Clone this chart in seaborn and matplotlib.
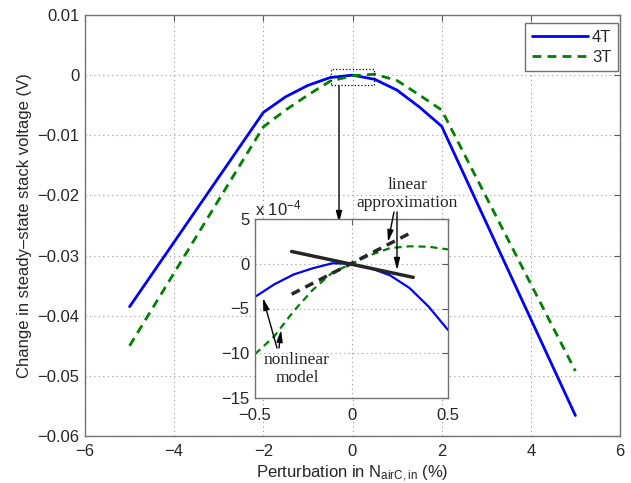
import numpy as np
import pandas as pd
import seaborn as sns
import matplotlib
matplotlib.use('Agg')
import matplotlib.pyplot as plt
from matplotlib.patches import Rectangle

# main curves: perturbation (%) vs change in stack voltage (V)
pert = [-5, -2, -1.5, -1, -0.5, 0, 0.5, 1, 1.5, 2, 5]
v_4t = [-0.0385, -0.0062, -0.0036, -0.0017, -0.0004, 0.0, -0.0007, -0.0025, -0.0053, -0.0085, -0.0566]
v_3t = [-0.0450, -0.0086, -0.0058, -0.0033, -0.0010, -0.0001, 0.00016, -0.0009, -0.0033, -0.0058, -0.0492]
labels = ['4T', '3T']

# inset (units of 1e-4 V)
pert_in = [-0.5, -0.4, -0.3, -0.2, -0.1, 0, 0.1, 0.2, 0.3, 0.4, 0.5]
in_4t = [-3.7, -2.3, -1.2, -0.5, 0.05, 0.0, -0.5, -1.3, -2.7, -4.8, -7.4]
in_3t = [-10.1, -8.1, -5.3, -2.9, -1.0, 0.0, 1.0, 1.75, 1.95, 1.9, 1.6]
# linear approximations
lin_x = [-0.31, 0.32]
lin_4t = [1.37, -1.52]
lin_3t = [-3.4, 3.6]

sns.set_style('white')
plt.rcParams['font.family'] = ['Liberation Sans', 'DejaVu Sans']
plt.rcParams['mathtext.fontset'] = 'custom'
plt.rcParams['mathtext.rm'] = 'Liberation Sans'
plt.rcParams['mathtext.it'] = 'Liberation Sans'

W, H = 631, 483
fig = plt.figure(figsize=(W / 100, H / 100), dpi=100)
ax = fig.add_axes([85 / W, 1 - 436 / H, 535 / W, 421 / H])

blue = '#0000ff'
green = '#008000'
dash = (0, (3.2, 2.2))

df = pd.DataFrame({'x': pert, '4T': v_4t, '3T': v_3t})
sns.lineplot(data=df, x='x', y='4T', ax=ax, color=blue, lw=2, sort=False, label=labels[0])
sns.lineplot(data=df, x='x', y='3T', ax=ax, color=green, lw=2, linestyle=dash, sort=False, label=labels[1])

def matlab_axes(a, fs=12, xpad=5):
    a.grid(True, linestyle=(0, (1, 3)), color='0.6', lw=0.8)
    a.tick_params(direction='in', top=True, right=True, length=4, width=0.8,
                  color='0.35', labelsize=fs, pad=4)
    a.tick_params(axis='x', pad=xpad)
    for s in a.spines.values():
        s.set_color('0.45')
        s.set_linewidth(1.0)
        s.set_visible(True)
    a.set_xlabel('')
    a.set_ylabel('')

matlab_axes(ax, xpad=6)
ax.set_xlim(-6, 6)
ax.set_ylim(-0.06, 0.01)
ax.set_xticks(np.arange(-6, 7, 2))
ax.set_yticks(np.arange(-0.06, 0.011, 0.01))
ax.set_xticklabels(['\u22126', '\u22124', '\u22122', '0', '2', '4', '6'])
ax.set_yticklabels(['\u22120.06', '\u22120.05', '\u22120.04', '\u22120.03', '\u22120.02', '\u22120.01', '0', '0.01'])
ax.set_xlabel('Perturbation in N$_{\\mathregular{airC, in}}$ (%)', fontsize=12, labelpad=3)
ax.set_ylabel('Change in steady\u2013state stack voltage (V)', fontsize=12, labelpad=4)

leg = ax.legend(loc='upper right', bbox_to_anchor=(0.996, 0.981), borderaxespad=0,
                fontsize=12, fancybox=False, handlelength=3.4, handletextpad=0.2,
                borderpad=0.4, labelspacing=0.3)
leg.get_frame().set_edgecolor('0.3')
leg.get_frame().set_linewidth(1.0)

# zoom box
ax.add_patch(Rectangle((-0.48, -0.0016), 0.96, 0.0027, fill=False, ls=':', lw=0.9, ec='k', zorder=5))

# inset
axi = fig.add_axes([255 / W, 1 - 398 / H, 193 / W, 179 / H])
axi.set_facecolor('white')
dfi = pd.DataFrame({'x': pert_in, '4T': in_4t, '3T': in_3t})
sns.lineplot(data=dfi, x='x', y='4T', ax=axi, color=blue, lw=1.6, sort=False)
sns.lineplot(data=dfi, x='x', y='3T', ax=axi, color=green, lw=1.6, linestyle=dash, sort=False)
axi.plot(lin_x, lin_4t, color='0.15', lw=2.5)
axi.plot(lin_x, lin_3t, color='0.15', lw=2.5, linestyle=(0, (2.6, 1.8)))
matlab_axes(axi, xpad=7)
axi.set_xlim(-0.5, 0.5)
axi.set_ylim(-15, 5)
axi.set_xticks([-0.5, 0, 0.5])
axi.set_yticks([-15, -10, -5, 0, 5])
axi.set_xticklabels(['\u22120.5', '0', '0.5'])
axi.set_yticklabels(['\u221215', '\u221210', '\u22125', '0', '5'])
fig.text(255 / W, 1 - 208 / H, 'x 10$^{\\mathregular{-4}}$', fontsize=12, va='center', ha='left')

# arrows and notes (figure pixels)
arr = dict(arrowstyle='-|>,head_length=0.7,head_width=0.18', color='k', lw=1.0, shrinkA=0, shrinkB=0)
ax.annotate('', xy=(339, H - 223), xytext=(339, H - 86), xycoords='figure pixels',
            textcoords='figure pixels', arrowprops=arr)
serif = ['Liberation Serif', 'DejaVu Serif']
fig.text(407 / W, 1 - 185 / H, 'linear', family=serif, fontsize=12.5, ha='center', va='center')
fig.text(407 / W, 1 - 203 / H, 'approximation', family=serif, fontsize=12.5, ha='center', va='center')
fig.text(297 / W, 1 - 360 / H, 'nonlinear', family=serif, fontsize=12.5, ha='center', va='center')
fig.text(297 / W, 1 - 378 / H, 'model', family=serif, fontsize=12.5, ha='center', va='center')
for (x0, y0, x1, y1) in [(394, 212, 388, 242), (397, 212, 397, 270),
                         (277, 348, 263, 298), (279, 348, 281, 330)]:
    fig.add_artist(matplotlib.patches.FancyArrowPatch((x0 / W, 1 - y0 / H), (x1 / W, 1 - y1 / H),
                   transform=fig.transFigure, arrowstyle='-|>,head_length=0.7,head_width=0.18',
                   mutation_scale=10, color='k', lw=1.0, shrinkA=0, shrinkB=0, zorder=10))

fig.savefig('out.png', dpi=100)
